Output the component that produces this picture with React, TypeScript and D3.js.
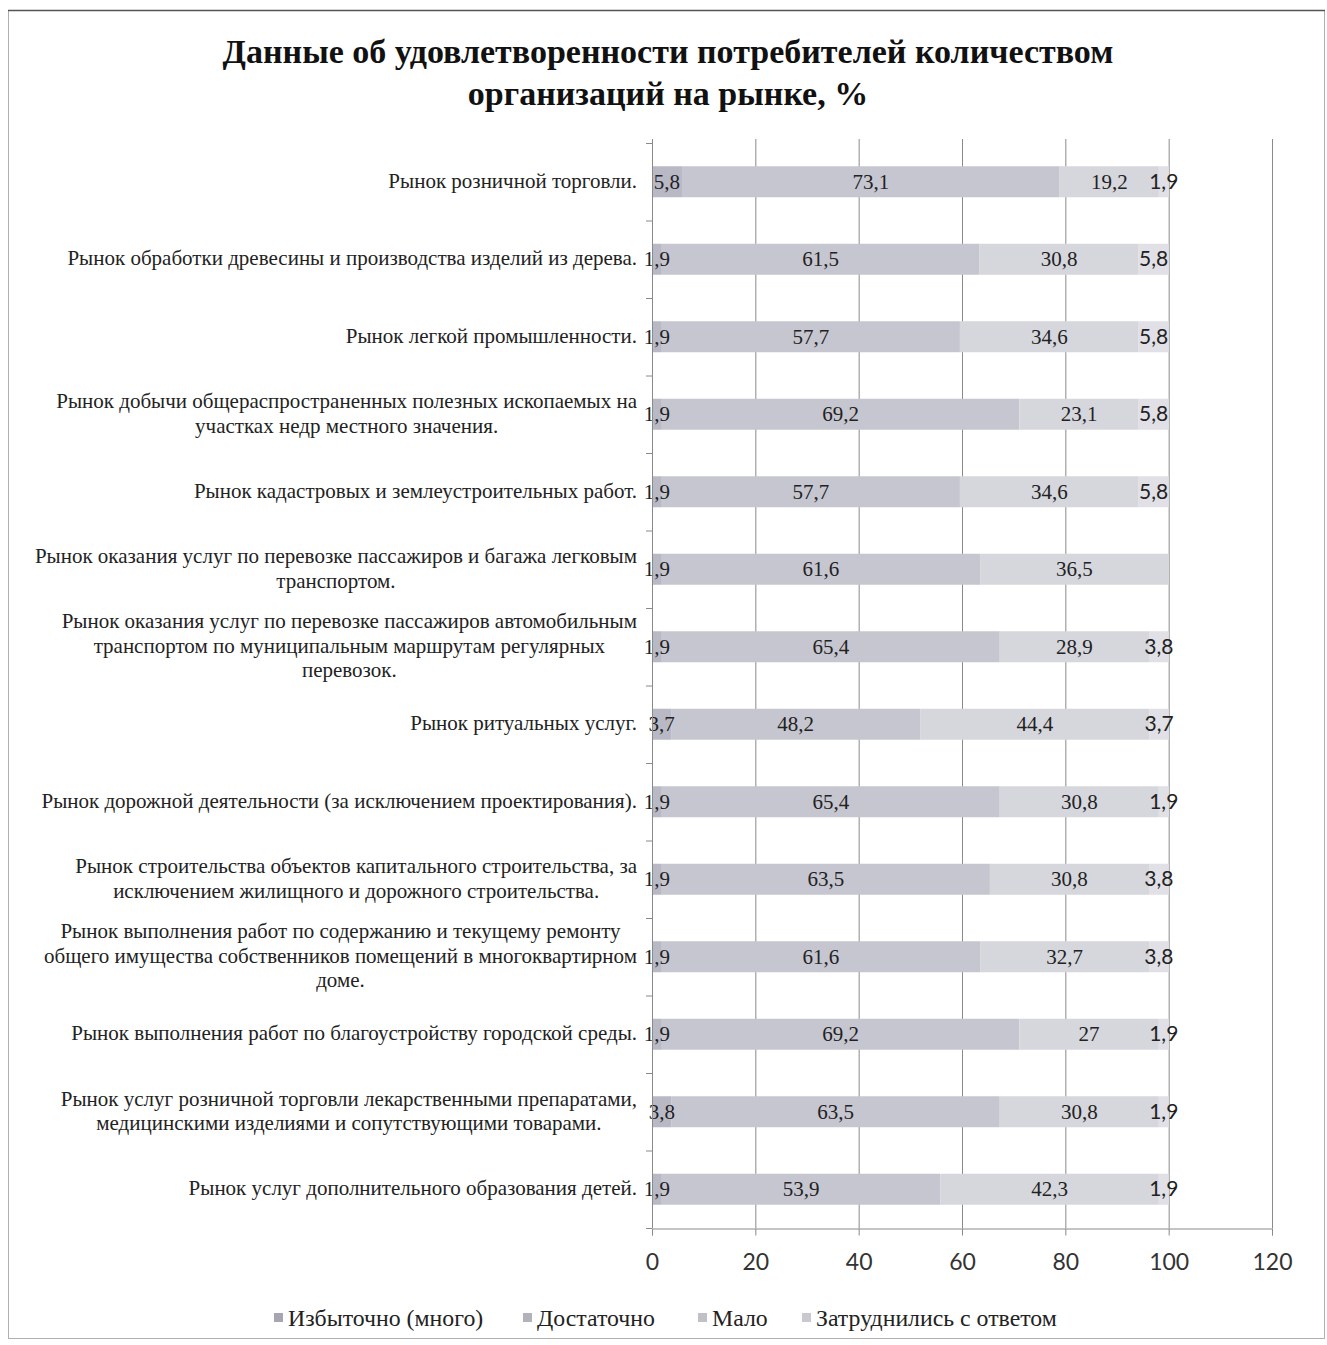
import React, { useEffect, useRef } from 'react';
import * as d3 from 'd3';

// Category labels, already split into lines as in the picture
const categories: string[][] = [
    ['Рынок розничной торговли.'],
    ['Рынок обработки древесины и производства изделий из дерева.'],
    ['Рынок легкой промышленности.'],
    ['Рынок добычи общераспространенных полезных ископаемых на', 'участках недр местного значения.'],
    ['Рынок кадастровых и землеустроительных работ.'],
    ['Рынок оказания услуг по перевозке пассажиров и багажа легковым', 'транспортом.'],
    ['Рынок оказания услуг по перевозке пассажиров автомобильным', 'транспортом по муниципальным маршрутам регулярных', 'перевозок.'],
    ['Рынок ритуальных услуг.'],
    ['Рынок дорожной деятельности (за исключением проектирования).'],
    ['Рынок строительства объектов капитального строительства, за', 'исключением жилищного и дорожного строительства.'],
    ['Рынок выполнения работ по содержанию и текущему ремонту', 'общего имущества собственников помещений в многоквартирном', 'доме.'],
    ['Рынок выполнения работ по благоустройству городской среды.'],
    ['Рынок услуг розничной торговли лекарственными препаратами,', 'медицинскими изделиями и сопутствующими товарами.'],
    ['Рынок услуг дополнительного образования детей.'],
];

const seriesNames = ['Избыточно (много)', 'Достаточно', 'Мало', 'Затруднились с ответом'];

const excessive = [5.8, 1.9, 1.9, 1.9, 1.9, 1.9, 1.9, 3.7, 1.9, 1.9, 1.9, 1.9, 3.8, 1.9];
const enough = [73.1, 61.5, 57.7, 69.2, 57.7, 61.6, 65.4, 48.2, 65.4, 63.5, 61.6, 69.2, 63.5, 53.9];
const few = [19.2, 30.8, 34.6, 23.1, 34.6, 36.5, 28.9, 44.4, 30.8, 30.8, 32.7, 27, 30.8, 42.3];
const hardToSay = [1.9, 5.8, 5.8, 5.8, 5.8, null, 3.8, 3.7, 1.9, 3.8, 3.8, 1.9, 1.9, 1.9];

const xTicks = [0, 20, 40, 60, 80, 100, 120];

const colors = ['#b9b9c6', '#c6c6d0', '#d6d6dd', '#e0e0e6'];

const App: React.FC = () => {
    const svgRef = useRef<SVGSVGElement | null>(null);

    useEffect(() => {
        const width = 1327;
        const height = 1345;
        const margin = { top: 143, right: 55, bottom: 117, left: 652 };

        const svg = d3.select(svgRef.current)
            .attr('width', width)
            .attr('height', height);
        svg.selectAll('*').remove();

        // chart frame
        svg.append('rect')
            .attr('x', 8.5).attr('y', 10.5)
            .attr('width', 1316).attr('height', 1328)
            .attr('fill', '#fff')
            .attr('stroke', '#b0b0b0');
        svg.append('line')
            .attr('x1', 8).attr('x2', 1325).attr('y1', 10.5).attr('y2', 10.5)
            .attr('stroke', '#555').attr('stroke-width', 1.5);

        // title
        svg.append('text')
            .attr('text-anchor', 'middle')
            .attr('font-family', 'Liberation Serif')
            .attr('font-weight', 'bold')
            .attr('font-size', 34)
            .attr('fill', '#111')
            .selectAll('tspan')
            .data(['Данные об удовлетворенности потребителей количеством', 'организаций на рынке, %'])
            .enter()
            .append('tspan')
            .attr('x', 668)
            .attr('y', (d, i) => 63 + i * 42)
            .text(d => d);

        const x = d3.scaleLinear()
            .domain([0, 120])
            .range([margin.left, width - margin.right]);

        const keys = categories.map((c, i) => String(i));
        const y = d3.scaleBand()
            .domain(keys)
            .range([margin.top, height - margin.bottom])
            .paddingInner(0.6)
            .paddingOuter(0.3);

        const plotBottom = height - margin.bottom;

        // vertical gridlines
        svg.append('g')
            .selectAll('line')
            .data(xTicks.slice(1))
            .enter()
            .append('line')
            .attr('x1', d => x(d) + 0.5)
            .attr('x2', d => x(d) + 0.5)
            .attr('y1', margin.top - 4)
            .attr('y2', plotBottom)
            .attr('stroke', '#8a8a8a')
            .attr('stroke-width', 1);

        // stacked bars
        const table = categories.map((c, i) => ({
            key: String(i),
            s0: excessive[i],
            s1: enough[i],
            s2: few[i],
            s3: hardToSay[i] ?? 0,
        }));
        const stack = d3.stack<any>().keys(['s0', 's1', 's2', 's3']);
        const layers = stack(table);
        const rawSeries = [excessive, enough, few, hardToSay];

        layers.forEach((layer, si) => {
            svg.append('g')
                .selectAll('rect')
                .data(layer)
                .enter()
                .append('rect')
                .attr('x', d => x(d[0]))
                .attr('y', d => y(d.data.key)!)
                .attr('width', d => Math.max(0, x(d[1]) - x(d[0])))
                .attr('height', y.bandwidth())
                .attr('fill', colors[si]);
        });

        // value labels, drawn after every bar so none is covered
        layers.forEach((layer, si) => {
            svg.append('g')
                .selectAll('text')
                .data(layer.filter((d, i) => rawSeries[si][i] !== null))
                .enter()
                .append('text')
                .attr('x', d => x((d[0] + d[1]) / 2))
                .attr('y', d => y(d.data.key)! + y.bandwidth() / 2 + 7)
                .attr('text-anchor', 'middle')
                .attr('font-family', si === 3 ? 'Lato' : 'Liberation Serif')
                .attr('font-size', 21)
                .attr('fill', '#222')
                .text(d => String((d.data as any)['s' + si]).replace('.', ','));
        });

        // category axis line with ticks between categories
        const step = y.step();
        svg.append('line')
            .attr('x1', margin.left + 0.5).attr('x2', margin.left + 0.5)
            .attr('y1', margin.top - 4).attr('y2', plotBottom)
            .attr('stroke', '#8a8a8a');
        svg.append('g')
            .selectAll('line')
            .data(d3.range(categories.length + 1))
            .enter()
            .append('line')
            .attr('x1', margin.left - 6)
            .attr('x2', margin.left)
            .attr('y1', i => margin.top + i * step + 0.5)
            .attr('y2', i => margin.top + i * step + 0.5)
            .attr('stroke', '#8a8a8a');

        // category labels
        const labelG = svg.append('g')
            .attr('font-family', 'Liberation Serif')
            .attr('font-size', 21)
            .attr('fill', '#222');
        categories.forEach((lines, i) => {
            const cy = y(String(i))! + y.bandwidth() / 2;
            const lh = 24.5;
            const t = labelG.append('text').attr('text-anchor', 'middle');
            const spans = lines.map((line, li) =>
                t.append('tspan')
                    .attr('y', cy + 6 + (li - (lines.length - 1) / 2) * lh)
                    .text(line)
            );
            const widths = spans.map(s => (s.node() as SVGTSpanElement).getComputedTextLength());
            const maxW = d3.max(widths) as number;
            spans.forEach(s => s.attr('x', 637 - maxW / 2));
        });

        // bottom axis
        const xAxis = svg.append('g')
            .attr('transform', `translate(0, ${plotBottom + 0.5})`)
            .call(d3.axisBottom(x).tickValues(xTicks).tickSize(7).tickPadding(18));
        xAxis.select('.domain').attr('stroke', '#8a8a8a');
        xAxis.selectAll('.tick line').attr('stroke', '#8a8a8a');
        xAxis.selectAll('.tick text')
            .attr('font-family', 'Lato')
            .attr('font-size', 23)
            .attr('fill', '#333');

        // legend
        const legendX = [274, 523, 698, 802];
        const legend = svg.append('g');
        seriesNames.forEach((name, i) => {
            legend.append('rect')
                .attr('x', legendX[i])
                .attr('y', 1313)
                .attr('width', 9)
                .attr('height', 9)
                .attr('fill', d3.color(colors[i])!.darker(0.3).toString());
            legend.append('text')
                .attr('x', legendX[i] + 14)
                .attr('y', 1326)
                .attr('font-family', 'Liberation Serif')
                .attr('font-size', 23.8)
                .attr('fill', '#222')
                .text(name);
        });
    }, []);

    return <svg ref={svgRef} style={{ position: 'absolute', left: 0, top: 0 }}></svg>;
};

export default App;
